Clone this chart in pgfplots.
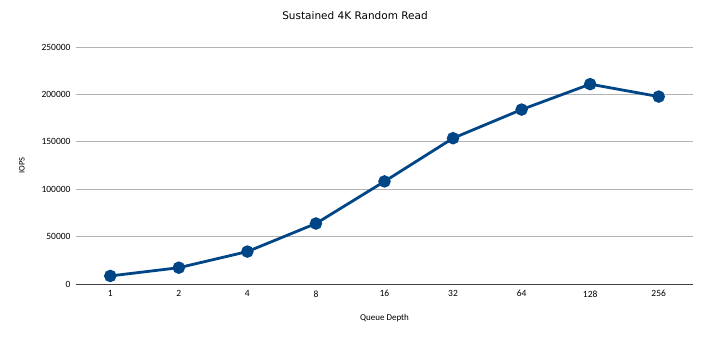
\documentclass[border=0pt]{standalone}
\usepackage{pgfplots}
\pgfplotsset{compat=1.18}
\usepackage{fontspec}
\setmainfont{Carlito}
\newfontfamily\titlefont{DejaVu Sans}
\definecolor{lineblue}{HTML}{004586}
\definecolor{gridgray}{HTML}{B3B3B3}
\begin{document}
\begin{tikzpicture}[x=1pt,y=1pt]
\useasboundingbox (-76,-57) rectangle (634,284);
\begin{axis}[
  at={(0,0)}, anchor=south west,
  scale only axis, width=617pt, height=237pt,
  xmin=-0.5, xmax=8.5, ymin=0, ymax=250000,
  xtick={0,1,2,3,4,5,6,7,8},
  xticklabels={1,2,4,8,16,32,64,128,256},
  ytick={0,50000,100000,150000,200000,250000},
  scaled y ticks=false,
  yticklabel style={/pgf/number format/fixed,/pgf/number format/1000 sep={}},
  /pgf/number format/assume math mode=true,
  tick label style={font=\fontsize{9.5}{11}\selectfont, text=black},
  major tick length=0pt,
  axis line style={draw=none},
  ymajorgrids, grid style={gridgray, line width=0.8pt},
  title={Sustained 4K Random Read},
  title style={at={(rel axis cs:0,1)}, anchor=center, xshift=279pt, yshift=25pt, font=\titlefont\fontsize{10.5}{12}\selectfont},
  xlabel={Queue Depth}, ylabel={IOPS},
  xlabel style={font=\fontsize{9}{10}\selectfont, at={(rel axis cs:0.5,0)}, anchor=center, yshift=-34pt},
  ylabel style={font=\fontsize{8.5}{10}\selectfont, at={(rel axis cs:0,0.5)}, anchor=center, yshift=54pt},
  yticklabel style={xshift=-2pt},
  xticklabel style={yshift=-3pt},
  clip=false,
]
\addplot[lineblue, line width=2.8pt, mark=*, mark size=4.8pt, mark options={solid, fill=lineblue, draw=none}]
coordinates {
(0,8500) (1,17200) (2,34200) (3,63800) (4,108200) (5,153800) (6,184000) (7,210800) (8,197700)
};
\draw[black!75, line width=0.9pt] (rel axis cs:0,0) -- (rel axis cs:1,0);
\end{axis}
\end{tikzpicture}
\end{document}
